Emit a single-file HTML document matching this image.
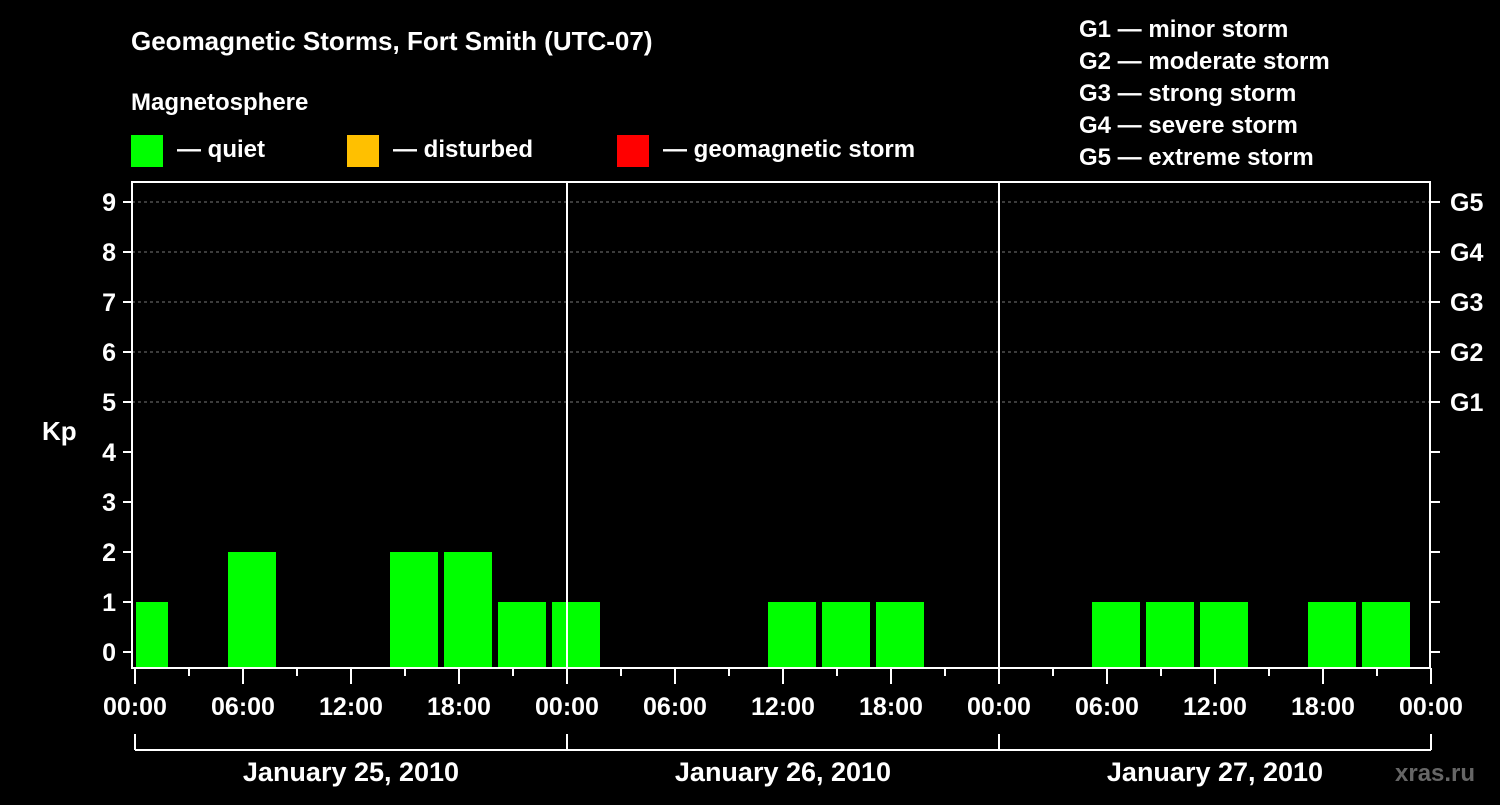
<!DOCTYPE html>
<html><head><meta charset="utf-8"><style>
body{margin:0;background:#000;width:1500px;height:800px;overflow:hidden}
svg text{font-family:"Liberation Sans",Arial,sans-serif;font-weight:bold;fill:#fff}
</style></head><body>
<svg id="chart" width="1500" height="800" xmlns="http://www.w3.org/2000/svg">
<text x="131" y="50" font-size="26">Geomagnetic Storms, Fort Smith (UTC-07)</text>
<text x="131" y="110" font-size="24">Magnetosphere</text>
<g>
<rect x="131" y="135" width="32" height="32" fill="#00ff00"/>
<text x="177" y="157" font-size="24">— quiet</text>
<rect x="347" y="135" width="32" height="32" fill="#ffc000"/>
<text x="393" y="157" font-size="24">— disturbed</text>
<rect x="617" y="135" width="32" height="32" fill="#ff0000"/>
<text x="663" y="157" font-size="24">— geomagnetic storm</text>
</g>
<g font-size="24">
<text x="1079" y="37">G1 — minor storm</text>
<text x="1079" y="69">G2 — moderate storm</text>
<text x="1079" y="101">G3 — strong storm</text>
<text x="1079" y="133">G4 — severe storm</text>
<text x="1079" y="165">G5 — extreme storm</text>
</g>
<text x="42" y="440" font-size="26">Kp</text>
<text x="1395" y="781" font-size="24" fill="#555" style="fill:#666">xras.ru</text>
<g id="grid"></g><g id="bars"></g><g id="axes"></g>
</svg>
<script>
const dayLabels=["January 25, 2010","January 26, 2010","January 27, 2010"];
const intervalStarts=[-1,2,5,8,11,14,17,20,23,26,29,32,35,38,41,44,47,50,53,56,59,62,65,68,71];
const kpValues=[1,0,2,0,0,2,2,1,1,0,0,0,1,1,1,0,0,0,1,1,1,0,1,1,0];
const yTicks=[0,1,2,3,4,5,6,7,8,9];
const gLabels=["G1","G2","G3","G4","G5"];
const gLevels=[5,6,7,8,9];
const hourLabels=["00:00","06:00","12:00","18:00"];
const NS="http://www.w3.org/2000/svg";
const X0=135,PXH=18,TOTAL=72,PL=132,PR=1430,PT=182,PB=668;
const x=h=>X0+h*PXH, y=v=>652-v*50;
function mk(t,a,p){const e=document.createElementNS(NS,t);for(const k in a)e.setAttribute(k,a[k]);p.appendChild(e);return e;}
const grid=document.getElementById('grid'),bars=document.getElementById('bars'),axes=document.getElementById('axes');
gLevels.forEach(v=>{const l=mk('line',{x1:PL,x2:PR,y1:y(v),y2:y(v),stroke:'#777','stroke-dasharray':'3,3','stroke-width':1},grid);
});
intervalStarts.forEach((s,i)=>{const v=kpValues[i];if(v<=0)return;
let c=x(s+1.5),a=Math.max(c-24,X0+1),b=Math.min(c+24,x(TOTAL)-1);if(b<=a)return;
const r=mk('rect',{x:a,y:y(v),width:b-a,height:PB-y(v),fill:v>=5?'#ff0000':v>=4?'#ffc000':'#00ff00'},bars);
});
const fr=mk('rect',{x:PL,y:PT,width:PR-PL,height:PB-PT,fill:'none',stroke:'#fff','stroke-width':2},axes);

for(let d=1;d<3;d++){const l=mk('line',{x1:x(d*24),x2:x(d*24),y1:PT,y2:PB,stroke:'#fff','stroke-width':2},axes);
}
yTicks.forEach(v=>{mk('line',{x1:123,x2:PL,y1:y(v),y2:y(v),stroke:'#fff','stroke-width':2},axes);
mk('line',{x1:PR,x2:1440,y1:y(v),y2:y(v),stroke:'#fff','stroke-width':2},axes);
const t=mk('text',{x:116,y:y(v)+9,'font-size':25,'text-anchor':'end'},axes);t.textContent=v;
});
gLevels.forEach((v,i)=>{const t=mk('text',{x:1450,y:y(v)+9,'font-size':25},axes);t.textContent=gLabels[i];
});
for(let h=0;h<=TOTAL;h+=3){const major=h%6===0;
mk('line',{x1:x(h),x2:x(h),y1:PB,y2:PB+(major?16:8),stroke:'#fff','stroke-width':2},axes);
if(major&&h%6===0){const t=mk('text',{x:x(h),y:715,'font-size':25,'text-anchor':'middle'},axes);
t.textContent=hourLabels[(h/6)%4];}}
mk('line',{x1:x(0),x2:x(TOTAL),y1:750,y2:750,stroke:'#fff','stroke-width':2},axes);
for(let d=0;d<=3;d++)mk('line',{x1:x(d*24),x2:x(d*24),y1:734,y2:750,stroke:'#fff','stroke-width':2},axes);
dayLabels.forEach((s,d)=>{const t=mk('text',{x:x(d*24+12),y:781,'font-size':27,'text-anchor':'middle'},axes);t.textContent=s;
});
</script>
</body></html>
